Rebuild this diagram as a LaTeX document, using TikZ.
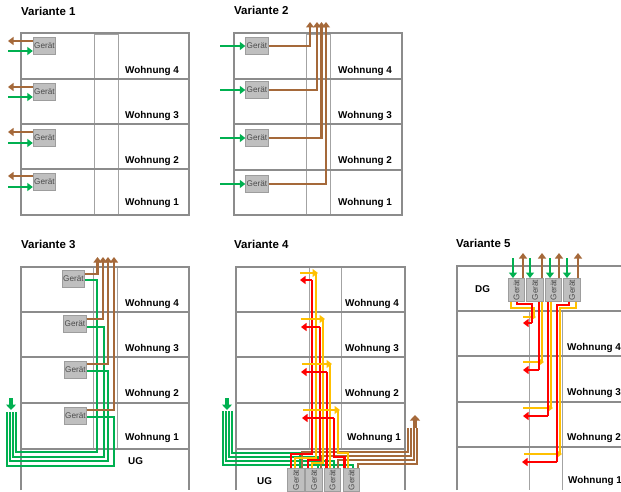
\documentclass[tikz,border=0pt]{standalone}
\usepackage{fontspec}
\setmainfont{Liberation Sans}
\usepackage{graphicx}
\usetikzlibrary{arrows.meta}

\definecolor{wandgrau}{HTML}{8C8C8C}
\definecolor{abluftbraun}{HTML}{A5693A}
\definecolor{zuluftgruen}{HTML}{00B050}
\definecolor{rueckgelb}{HTML}{FFC000}

\tikzset{
	wand/.style={draw=wandgrau, line width=2.1pt},
	schacht/.style={draw=wandgrau!80, line width=1pt},
	titel/.style={anchor=west, inner sep=0pt, font=\fontsize{11.5}{13}\selectfont\bfseries},
	wohnung/.style={anchor=west, inner sep=0pt, font=\fontsize{9.9}{12}\selectfont\bfseries},
	geraet/.style={draw=wandgrau!85, fill=black!25, line width=0.9pt, inner sep=0pt, minimum width=22.5pt, minimum height=16.5pt, text=black!70, font=\fontsize{8.2}{10}\selectfont},
	geraethoch/.style={geraet, minimum width=16.5pt, minimum height=23pt},
	tip/.style={-{Triangle[length=5.5pt,width=8pt]}},
	blocktip/.style={-{Triangle[length=5.5pt,width=10pt]}, line width=4pt},
	abluft/.style={draw=abluftbraun, line width=2.1pt},
	zuluft/.style={draw=zuluftgruen, line width=2.1pt},
	vorlauf/.style={draw=red, line width=2.1pt},
	ruecklauf/.style={draw=rueckgelb, line width=2.1pt},
	buendel/.style={line width=1.8pt}
}

\begin{document}
\begin{tikzpicture}[x=1pt, y=-1pt]

\useasboundingbox (0,0) rectangle (621,492);

% Variante 1
\node[titel] (t1) at (21,11) {Variante 1};
\draw[schacht] (94,35) rectangle (118,215);
\draw[wand] (21,33) rectangle (189,215);
\foreach \y in {79, 124, 169}
	\draw[wand] (21,\y) -- (189,\y);
\foreach \n/\y/\yw/\ya/\yz in {4/46/70.5/41/51, 3/92/116/87/97, 2/138/160.5/132/143, 1/182/203/176/187} {
	\node[wohnung] (w1\n) at (125,\yw) {Wohnung \n};
	\node[geraet] (g1\n) at (44.5,\y) {Gerät};
	\coordinate (a1\n) at (8,\ya);
	\coordinate (z1\n) at (8,\yz);
	\draw[abluft, tip] (33,\ya -| g1\n.west) -- (a1\n);
	\draw[zuluft, tip] (z1\n) -- (33,\yz -| g1\n.west);
}

% Variante 2
\node[titel] (t2) at (234,10) {Variante 2};
\draw[schacht] (306,35) rectangle (330,215);
\draw[wand] (234,33) rectangle (402,215);
\foreach \y in {79, 124, 170}
	\draw[wand] (234,\y) -- (402,\y);
\foreach \n/\y/\yw/\xa in {4/46/70.5/310, 3/90/116/317, 2/138/160.5/321.5, 1/184/203/326} {
	\node[wohnung] (w2\n) at (338,\yw) {Wohnung \n};
	\node[geraet] (g2\n) at (257,\y) {Gerät};
	\coordinate (a2\n) at (\xa,22);
	\coordinate (z2\n) at (220,\y);
	\draw[zuluft, tip] (z2\n) -- (g2\n.west);
	\draw[abluft, tip] (g2\n.east) -| (a2\n);
}

% Variante 3
\node[titel] (t3) at (21,244) {Variante 3};
\draw[schacht] (93,267) -- (93,449) (117,267) -- (117,449);
\draw[wand] (21,490) -- (21,267) -- (189,267) -- (189,490);
\foreach \y in {312, 357, 403, 449}
	\draw[wand] (21,\y) -- (189,\y);
\foreach \n/\y in {4/304, 3/349, 2/394, 1/438}
	\node[wohnung] (w3\n) at (125,\y) {Wohnung \n};
\node[wohnung] (ug3) at (128,461) {UG};
\foreach \n/\x/\y/\xa/\ya/\xz/\yz/\yu/\xl in {4/73.5/279/97.5/274/97/280/452/16, 3/75/324/103/319/104/327/457/13, 2/75.5/370/108/364/108/371/461/10, 1/75.5/416/114/410/114/417/466/7} {
	\node[geraet] (g3\n) at (\x,\y) {Gerät};
	\coordinate (a3\n) at (\xa,257);
	\coordinate (z3\n) at (\xl,412);
	\draw[zuluft, buendel] (z3\n) |- (\xz,\yu) -- (\xz,\yz) -- (\xz,\yz -| g3\n.east);
	\draw[abluft, tip] (g3\n.east |- 0,\ya) -| (a3\n);
}
\coordinate (zb3) at (11,398);
\coordinate (ze3) at (11,410);
\draw[zuluftgruen, blocktip] (zb3) -- (ze3);

% Variante 4
\node[titel] (t4) at (234,244) {Variante 4};
\draw[schacht] (309,267) -- (309,449) (341,267) -- (341,449);
\draw[wand] (236,490) -- (236,267) -- (405,267) -- (405,490);
\foreach \y in {312, 357, 403, 449}
	\draw[wand] (236,\y) -- (405,\y);
\foreach \n/\x/\y in {4/345/304, 3/345/349, 2/345/394, 1/347/438}
	\node[wohnung] (w4\n) at (\x,\y) {Wohnung \n};
\node[wohnung] (ug4) at (257,481) {UG};
\foreach \n/\x in {1/296, 2/314, 3/332.5, 4/351.5}
	\node[geraethoch] (g4\n) at (\x,480) {\rotatebox{90}{Gerät}};
% Zuluft und Abluft im UG
\foreach \n/\xv/\yh/\xd in {1/232/453/300, 2/229/457/318, 3/226/461/334, 4/223/465/353} {
	\coordinate (z4\n) at (\xv,411);
	\draw[zuluft, buendel] (z4\n) |- (\xd,\yh) -- (\xd,0 |- g4\n.north);
}
\foreach \n/\xv/\yh/\xd in {1/408/452/302, 2/411/456/321, 3/414/460/338, 4/417/464/358} {
	\coordinate (a4\n) at (\xv,428);
	\draw[abluft, buendel] (a4\n) |- (\xd,\yh) -- (\xd,0 |- g4\n.north);
}
\coordinate (zb4) at (227,398);
\coordinate (ze4) at (227,410);
\draw[zuluftgruen, blocktip] (zb4) -- (ze4);
\coordinate (ab4) at (415,428);
\coordinate (ae4) at (415,415);
\draw[abluftbraun, blocktip] (ab4) -- (ae4);
% Vorlauf und Ruecklauf
\foreach \n/\xr/\yr/\xt/\xg/\yg/\xs/\ys/\xk/\yk/\xl in {
	1/312/454/291/316/458/295/273/300/280/300,
	2/320/460/308/323/463/312/319/300.5/327/301,
	3/327/460/326.5/330/464/330/364/302/372/301,
	4/334/457/344.5/338/453/348/410/303/418/302} {
	\coordinate (r4\n) at (\xl,\yk);
	\coordinate (y4\n) at (\xk,\ys);
	\draw[ruecklauf] (\xg,\ys) |- (\xs,\yg) -- (\xs,0 |- g4\n.north);
	\draw[vorlauf] (\xt,0 |- g4\n.north) |- (\xr,\yr) -- (\xr,\yk);
	\draw[vorlauf, tip] (\xr,\yk) -- (r4\n);
	\draw[ruecklauf, tip] (y4\n) -- (\xg+2,\ys);
}

% Variante 5
\node[titel] (t5) at (456,243) {Variante 5};
\draw[schacht] (529,311) -- (529,490) (562,311) -- (562,490);
\draw[wand] (457,490) -- (457,266) -- (621,266);
\foreach \y in {311, 356, 402, 447}
	\draw[wand] (457,\y) -- (621,\y);
\node[wohnung] (dg5) at (475,289) {DG};
\foreach \n/\x/\y in {4/567/348, 3/567/393, 2/567/438, 1/568/481}
	\node[wohnung] (w5\n) at (\x,\y) {Wohnung \n};
\foreach \n/\x/\xz/\xa in {1/516.5/513/523, 2/535/530/542, 3/553.5/550/559, 4/572/567/578} {
	\node[geraethoch] (g5\n) at (\x,290) {\rotatebox{90}{Gerät}};
	\coordinate (z5\n) at (\xz,258);
	\coordinate (a5\n) at (\xa,253);
	\draw[zuluft, tip] (z5\n) -- (\xz,0 |- g5\n.north);
	\draw[abluft, tip] (\xa,0 |- g5\n.north) -- (a5\n);
}
\coordinate (r51) at (523,323);
\coordinate (y51) at (523,317);
\draw[ruecklauf] (511,0 |- g51.south) |- (534,308) -- (534,317);
\draw[ruecklauf, tip] (y51) -- (536,317);
\draw[vorlauf] (517,0 |- g51.south) |- (532,304) -- (532,323);
\draw[vorlauf, tip] (532,323) -- (r51);
\coordinate (r52) at (523,370);
\coordinate (y52) at (523,362);
\draw[ruecklauf] (542,0 |- g52.south) -- (542,362);
\draw[ruecklauf, tip] (y52) -- (544,362);
\draw[vorlauf] (539,0 |- g52.south) -- (539,370);
\draw[vorlauf, tip] (539,370) -- (r52);
\coordinate (r53) at (523,416);
\coordinate (y53) at (523,408);
\draw[ruecklauf] (551,0 |- g53.south) -- (551,408);
\draw[ruecklauf, tip] (y53) -- (553,408);
\draw[vorlauf] (548,0 |- g53.south) -- (548,416);
\draw[vorlauf, tip] (548,416) -- (r53);
\coordinate (r54) at (522,462);
\coordinate (y54) at (524,454);
\draw[ruecklauf] (576,0 |- g54.south) |- (560,308) -- (560,454);
\draw[ruecklauf, tip] (y54) -- (562,454);
\draw[vorlauf] (569,0 |- g54.south) |- (557,305) -- (557,462);
\draw[vorlauf, tip] (557,462) -- (r54);

\end{tikzpicture}
\end{document}
